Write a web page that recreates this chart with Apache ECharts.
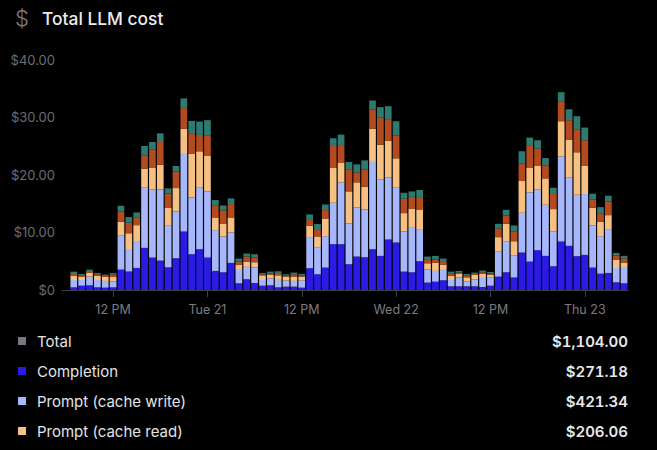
<!DOCTYPE html>
<html>
<head>
<meta charset="utf-8">
<style>html,body{margin:0;padding:0;background:#000}#c{width:657px;height:450px}
svg text{font-feature-settings:normal}
svg text[style*="600"]{font-feature-settings:"tnum" 1 !important;font-variant-numeric:tabular-nums !important}</style>
<script src="https://cdn.jsdelivr.net/npm/echarts@6/dist/echarts.min.js"></script>
</head>
<body>
<div id="c"></div>
<script>
const hourLabels = {5:'12 PM',17:'Tue 21',29:'12 PM',41:'Wed 22',53:'12 PM',65:'Thu 23'};
const completion = [.46,.75,.81,.46,.41,.46,3.54,3.19,3.83,7.31,5.63,5.10,3.94,5.51,10.15,6.21,7.08,5.63,3.31,3.07,4.70,1.16,1.86,1.22,.75,.81,.46,.58,.58,.41,3.77,2.73,3.89,7.95,7.95,4.47,5.80,5.68,7.08,5.92,8.76,8.24,3.19,3.07,4.99,1.28,1.45,1.68,.64,.64,.64,.64,.52,.75,2.32,3.07,2.15,6.50,4.93,6.90,5.92,4.12,8.41,7.66,5.86,6.09,3.89,2.84,2.96,1.33,1.16];
const cacheWrite = [1.28,.99,1.51,1.28,1.16,1.04,5.97,3.94,4.52,10.44,11.83,12.35,7.31,8.12,13.46,9.86,10.67,11.48,7.08,6.21,5.28,2.32,2.15,2.67,.99,1.22,1.45,1.04,.99,1.28,5.28,4.70,5.45,7.19,10.73,7.08,8.53,8.29,15.14,13.28,10.79,9.51,6.96,7.71,5.45,2.26,1.86,1.80,1.10,1.51,.81,1.22,1.57,1.39,4.41,5.39,3.89,6.90,12.01,10.56,8.87,6.03,14.79,11.83,10.67,10.56,7.31,6.50,7.48,2.49,2.67];
const cacheRead = [.75,.52,.70,.70,.70,.75,2.32,2.73,2.90,3.31,3.71,4.29,3.07,4.06,4.35,7.60,6.32,6.15,2.20,2.26,2.61,.93,.93,.93,.81,.58,.64,.70,.75,.64,2.09,1.86,3.07,6.03,3.36,5.57,4.35,3.94,5.74,6.03,6.32,5.10,3.19,3.36,3.54,1.10,1.39,.93,.75,.70,.75,.81,.70,.52,2.44,3.02,2.44,5.51,4.23,4.06,4.58,3.89,6.09,6.61,7.37,4.87,3.07,2.49,2.55,1.45,.93];
const promptOther = [.46,.29,.29,.29,.17,.46,1.80,1.80,1.28,2.32,3.19,3.94,2.44,2.90,3.60,3.42,2.84,3.60,2.03,2.26,2.32,.52,.87,.81,.17,.29,.41,.17,.41,.17,1.16,1.28,1.45,3.83,2.96,3.83,1.74,3.02,3.36,4.70,3.77,4.00,2.49,2.03,2.15,.70,.58,.46,.41,.17,.29,.12,.29,.17,1.51,1.45,1.68,3.02,3.83,3.02,2.20,2.78,3.36,3.36,4.00,4.47,1.45,1.39,2.38,.70,.75];
const otherCost = [.23,.23,.23,.23,.23,.23,.99,.99,.93,1.62,1.33,1.51,.87,.93,1.68,2.26,2.32,2.61,.99,.87,.99,.52,.52,.58,.23,.29,.29,.23,.29,.29,.81,.87,.99,1.33,1.97,1.28,1.39,1.57,1.57,1.80,2.26,2.44,1.04,.93,1.22,.46,.64,.58,.29,.29,.29,.23,.29,.29,.81,.99,1.04,2.15,1.45,1.45,1.33,.93,1.68,1.91,2.26,2.20,.99,1.16,.99,.46,.41];
const seriesNames = ['Completion','Prompt (cache write)','Prompt (cache read)','Prompt','Other'];
const seriesColors = ['#2a1ae4','#a6b8fb','#f5c082','#b34a20','#2c7a70'];
const legendNames = ['Total','Completion','Prompt (cache write)','Prompt (cache read)'];
const legendValues = ['$1,104.00','$271.18','$421.34','$206.06'];
const legendColors = ['#77777f','#2a1ae4','#a6b8fb','#f5c082'];
const titleText = 'Total LLM cost';

const FONT = 'Inter, "Noto Sans", sans-serif';
const categories = [''].concat(completion.map((_, i) => hourLabels[i] || ''));
const allSeries = [completion, cacheWrite, cacheRead, promptOther, otherCost];

const graphic = [
  {type:'text',x:15,y:7,style:{text:'$',font:'300 22px '+FONT,fill:'#7d7d85'}},
  {type:'text',x:42,y:18,style:{text:titleText,font:'500 17.4px '+FONT,fill:'#ececee',verticalAlign:'middle'}}
];
legendNames.forEach((n,i)=>{
  const cy = 341.5 + i*30;
  graphic.push({type:'rect',shape:{x:18,y:cy-4.5,width:8,height:8},style:{fill:legendColors[i]}});
  graphic.push({type:'text',x:37,y:cy,style:{text:n,font:'400 15px '+FONT,fill:'#e4e4e7',verticalAlign:'middle'}});
  graphic.push({type:'text',x:628,y:cy,style:{text:legendValues[i],font:'600 15px '+FONT,fill:'#e8e8ea',align:'right',verticalAlign:'middle'}});
});

const chart = echarts.init(document.getElementById('c'), null, {renderer:'svg'});
chart.setOption({
  animation:false,
  backgroundColor:'#000',
  textStyle:{fontFamily:FONT},
  grid:{left:62,top:59.5,width:566,height:230.5,containLabel:false},
  xAxis:{
    type:'category',
    data:categories,
    axisLine:{lineStyle:{color:'#3f3f46',width:1}},
    axisTick:{show:true,alignWithLabel:true,length:7,lineStyle:{color:'#3f3f46'},interval:(i,v)=>v!==''},
    axisLabel:{interval:(i,v)=>v!=='',color:'#7b7b83',fontSize:12.5,margin:13,fontFamily:FONT,hideOverlap:false}
  },
  yAxis:{
    type:'value',min:0,max:40,interval:10,
    splitLine:{show:false},axisLine:{show:false},axisTick:{show:false},
    axisLabel:{color:'#6c6c74',fontSize:13,fontFamily:FONT,align:'right',margin:7,
      formatter:v=>v===0?'$0':'$'+v.toFixed(2)}
  },
  series:allSeries.map((d,i)=>({
    name:seriesNames[i],type:'bar',stack:'cost',barWidth:6.7,
    itemStyle:{color:seriesColors[i]},
    data:[null].concat(d)
  })),
  graphic:graphic
});
</script>
</body>
</html>
